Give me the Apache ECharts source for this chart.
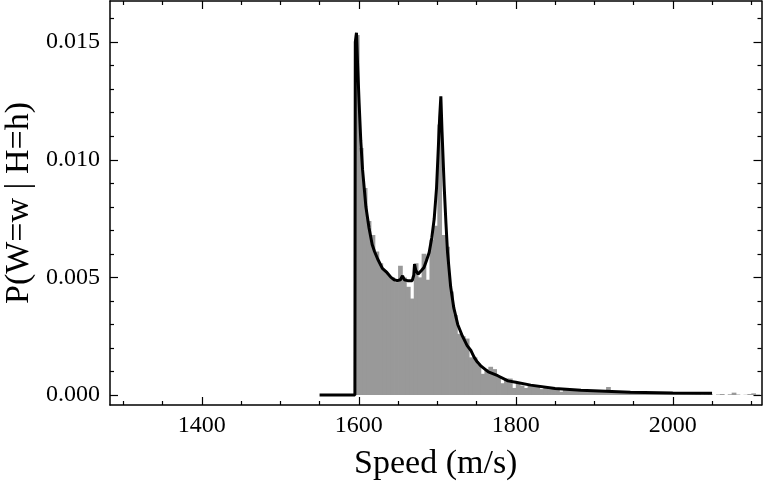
<!DOCTYPE html>
<html>
<head>
<meta charset="utf-8">
<script src="https://cdn.jsdelivr.net/npm/echarts@6/dist/echarts.min.js"></script>
<style>
    html, body { margin: 0; padding: 0; background: #fff; }
    #chart { width: 763px; height: 483px; }
</style>
</head>
<body>
<div id="chart"></div>
<script>
// histogram bins: start speed (m/s), bin width 5
const binStarts = [
    1595, 1600, 1605, 1610, 1615, 1620, 1625, 1630, 1635, 1640,
    1645, 1650, 1655, 1660, 1665, 1670, 1675, 1680, 1685, 1690,
    1695, 1700, 1705, 1710, 1715, 1720, 1725, 1730, 1735, 1740,
    1745, 1750, 1755, 1760, 1765, 1770, 1775, 1780, 1785, 1790,
    1795, 1800, 1805, 1810, 1815, 1820, 1825, 1830, 1835, 1840,
    1845, 1850, 1855, 1860, 1865, 1870, 1875, 1880, 1885, 1890,
    1895, 1900, 1905, 1910, 1915, 1920, 1925, 1930, 1935, 1940,
    1945, 1950, 1955, 1960, 1965, 1970, 1975, 1980, 1985, 1990,
    1995, 2000, 2005, 2010, 2015, 2020, 2025, 2030, 2035, 2040,
    2045, 2050, 2055, 2060, 2065, 2070, 2075, 2080, 2085, 2090,
    2095, 2100, 2105
];
const binWidth = 5;
const binValues = [
    0.0153, 0.0105, 0.0088, 0.0074, 0.0068, 0.0061, 0.0056, 0.0053, 0.0051, 0.0050,
    0.0048, 0.0055, 0.0050, 0.0046, 0.0041, 0.0056, 0.0050, 0.0060, 0.0049, 0.0066,
    0.0072, 0.0115, 0.0068, 0.0063, 0.0044, 0.0034, 0.0026, 0.0025, 0.0024, 0.0016,
    0.0016, 0.0013, 0.0009, 0.0011, 0.0012, 0.0011, 0.0008, 0.0005, 0.0007, 0.0007,
    0.0003, 0.0005, 0.0004, 0.0003, 0.0004, 0.0004, 0.0004, 0.00025, 0.00035, 0.00025,
    0.0003, 0.00028, 0.00014, 0.00026, 0.00024, 0.00022, 0.0002, 0.0002, 0.00018, 0.00018,
    0.00016, 0.00016, 0.00015, 0.00014, 0.00034, 0.00013, 0.00012, 0.00012, 0.00011, 0.0001,
    0.0001, 0.00009, 0.00009, 0.00008, 0.00008, 0.00008, 0.00007, 0.00007, 0.00006, 0.00006,
    0.00006, 0.00005, 0.00005, 0.00005, 0.00004, 0.00004, 0.00004, 0.00004, 0.00003, 0.00003,
    0.00003, 0, 0.00002, 0.00004, 0, 0.00003, 0.0001, 0.00002, 0, 0.00001,
    0.00004, 0.00007, 0.00002
];

// theoretical curve
const curveSpeed = [
    1550, 1595, 1595.5, 1597, 1598.5, 1600.4, 1602.5, 1604.7, 1609, 1613,
    1617, 1620, 1624, 1630, 1636, 1641, 1645, 1649, 1653, 1655.7,
    1658, 1662, 1668, 1670, 1671, 1672.5, 1675.6, 1680, 1683, 1686,
    1689.6, 1693, 1696, 1699, 1701, 1703, 1704.5, 1706, 1708.7, 1711,
    1713, 1717, 1721, 1726, 1732, 1738, 1743, 1747, 1751, 1755,
    1765, 1777, 1790, 1800, 1819, 1850, 1883, 1946, 2000, 2050
];
const curveValue = [
    0, 0, 0.0150, 0.0154, 0.0140, 0.0124, 0.0108, 0.0096, 0.0080, 0.0071,
    0.0064, 0.0061, 0.00578, 0.00538, 0.0052, 0.0050, 0.0049, 0.00486, 0.0049, 0.00507,
    0.0049, 0.00486, 0.00486, 0.0051, 0.00556, 0.0053, 0.00514, 0.0053, 0.00542, 0.0057,
    0.00606, 0.0067, 0.00748, 0.0088, 0.0103, 0.0118, 0.0127, 0.0112, 0.0089, 0.0073,
    0.00607, 0.0046, 0.0037, 0.0030, 0.0025, 0.0021, 0.00188, 0.0016, 0.0014, 0.00125,
    0.00098, 0.00082, 0.0006, 0.00054, 0.00042, 0.00028, 0.0002, 0.00012, 0.00009, 0.00007
];

// ticks
const xMajor = [1400, 1600, 1800, 2000];
const xMinor = [1300, 1350, 1450, 1500, 1550, 1650, 1700, 1750, 1850, 1900, 1950, 2050, 2100];
const yMajor = [0, 0.005, 0.010, 0.015];
const yMinor = [0.001, 0.002, 0.003, 0.004, 0.006, 0.007, 0.008, 0.009, 0.011, 0.012, 0.013, 0.014, 0.016];

const xMin = 1283, xMax = 2113;
const yMin = -0.000425, yMax = 0.01675;
const font = "Liberation Serif";

const histData = binStarts.map((s, i) => [s, s + binWidth, binValues[i]]);
const lineData = curveSpeed.map((s, i) => [s, curveValue[i]]);

function xAxisDef(pos, ticks, len, label) {
    return {
        type: "value",
        position: pos,
        min: xMin,
        max: xMax,
        axisLine: { show: len > 5, onZero: false, lineStyle: { color: "#000", width: 1.5 } },
        axisTick: { show: true, inside: true, length: len, customValues: ticks, lineStyle: { color: "#000", width: 1.2 } },
        axisLabel: label ? {
            show: true,
            customValues: ticks,
            color: "#000",
            fontFamily: font,
            fontSize: 24,
            margin: 9,
            formatter: function (v) {
                return String(v);
            },
        } : { show: false },
        splitLine: { show: false },
    };
}

function yAxisDef(pos, ticks, len, label) {
    return {
        type: "value",
        position: pos,
        min: yMin,
        max: yMax,
        axisLine: { show: len > 5, onZero: false, lineStyle: { color: "#000", width: 1.5 } },
        axisTick: { show: true, inside: true, length: len, customValues: ticks, lineStyle: { color: "#000", width: 1.2 } },
        axisLabel: label ? {
            show: true,
            customValues: ticks,
            color: "#000",
            fontFamily: font,
            fontSize: 24,
            margin: 10,
            formatter: function (v) {
                return v.toFixed(3);
            },
        } : { show: false },
        splitLine: { show: false },
    };
}

const chart = echarts.init(document.getElementById("chart"));
const xLabelAxis = xAxisDef("bottom", xMajor, 8, true);
xLabelAxis.name = "Speed (m/s)";
xLabelAxis.nameLocation = "middle";
xLabelAxis.nameGap = 42;
xLabelAxis.nameTextStyle = { color: "#000", fontFamily: font, fontSize: 34 };

chart.setOption({
    animation: false,
    backgroundColor: "#fff",
    grid: { left: 110, right: 1.5, top: 1, bottom: 78, containLabel: false, outerBoundsMode: "none" },
    xAxis: [
        xLabelAxis,
        xAxisDef("bottom", xMinor, 4, false),
        xAxisDef("top", xMajor, 8, false),
        xAxisDef("top", xMinor, 4, false),
    ],
    yAxis: [
        yAxisDef("left", yMajor, 8, true),
        yAxisDef("left", yMinor, 4, false),
        yAxisDef("right", yMajor, 8, false),
        yAxisDef("right", yMinor, 4, false),
    ],
    graphic: [
        {
            type: "text",
            x: 19,
            y: 203,
            rotation: Math.PI / 2,
            style: {
                text: "P(W=w | H=h)",
                fill: "#000",
                font: "34px 'Liberation Serif'",
                textAlign: "center",
                textVerticalAlign: "middle",
            },
        },
    ],
    series: [
        {
            type: "custom",
            xAxisIndex: 0,
            yAxisIndex: 0,
            data: histData,
            encode: { x: [0, 1], y: 2 },
            clip: true,
            renderItem: function (params, api) {
                const p0 = api.coord([api.value(0), api.value(2)]);
                const p1 = api.coord([api.value(1), 0]);
                return {
                    type: "rect",
                    shape: { x: p0[0], y: p0[1], width: p1[0] - p0[0] + 0.8, height: p1[1] - p0[1] },
                    style: { fill: "#999999" },
                };
            },
            z: 2,
        },
        {
            type: "line",
            xAxisIndex: 0,
            yAxisIndex: 0,
            data: lineData,
            showSymbol: false,
            symbol: "none",
            lineStyle: { color: "#000", width: 3 },
            z: 3,
        },
    ],
});
</script>
</body>
</html>
